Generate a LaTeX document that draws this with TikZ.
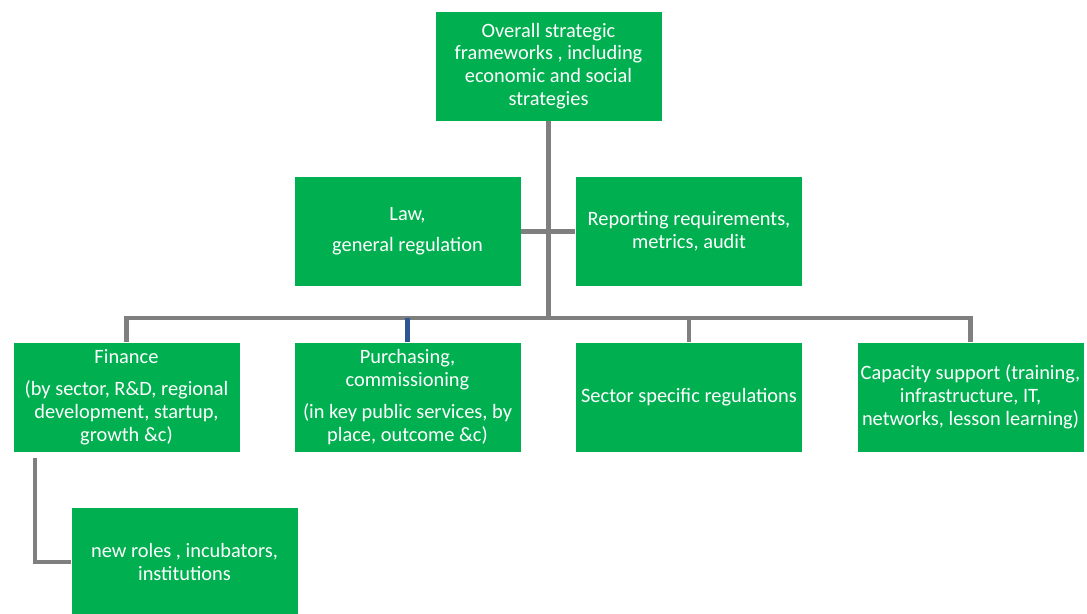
\documentclass[tikz,border=0pt]{standalone}
\usepackage{fontspec}
\setmainfont{Carlito}
\definecolor{boxgreen}{HTML}{00B050}
\definecolor{linegrey}{HTML}{7F7F7F}
\definecolor{lineblue}{HTML}{2F5597}

\begin{document}
\begin{tikzpicture}[x=0.025cm,y=-0.025cm,
  box/.style={fill=boxgreen,draw=white,line width=0.5pt,text=white,align=center,
    minimum width=5.675cm,minimum height=2.75cm,inner sep=0.5pt,
    font=\fontsize{14.5}{16.2}\selectfont},
  link/.style={draw=linegrey,line width=3.4pt}]
\path[use as bounding box,clip] (0,0) rectangle (1087,613);
\node[box] (top) at (548.5,66) {Overall strategic\\frameworks , including\\economic and social\\strategies};
\node[box] (law) at (407.5,231.5) {Law,\\[6pt]general regulation};
\node[box] (rep) at (689,231.5) {Reporting requirements,\\metrics, audit};
\node[box] (fin) at (126.5,397) {Finance\\[7pt](by sector, R\&D, regional\\development, startup,\\growth \&c)};
\node[box] (pur) at (407.5,397) {Purchasing,\\commissioning\\[7pt](in key public services, by\\place, outcome \&c)};
\node[box] (sec) at (689,397) {Sector specific regulations};
\node[box] (cap) at (970.5,397) {Capacity support (training,\\infrastructure, IT,\\networks, lesson learning)};
\node[box] (new) at (184.5,562) {new roles , incubators,\\institutions};
\coordinate (bus) at (548.5,318);
\coordinate (fork) at (35,458);
\draw[link] (top.south) -- (bus);
\draw[link] (law.east) -- (rep.west);
\draw[link] (fin.north) |- (bus);
\draw[link] (cap.north) |- (bus);
\draw[link] (sec.north) -- (sec.north |- bus);
\draw[link,draw=lineblue] (pur.north) -- (pur.north |- bus);
\draw[link] (fork) |- (new.west);
\end{tikzpicture}
\end{document}
